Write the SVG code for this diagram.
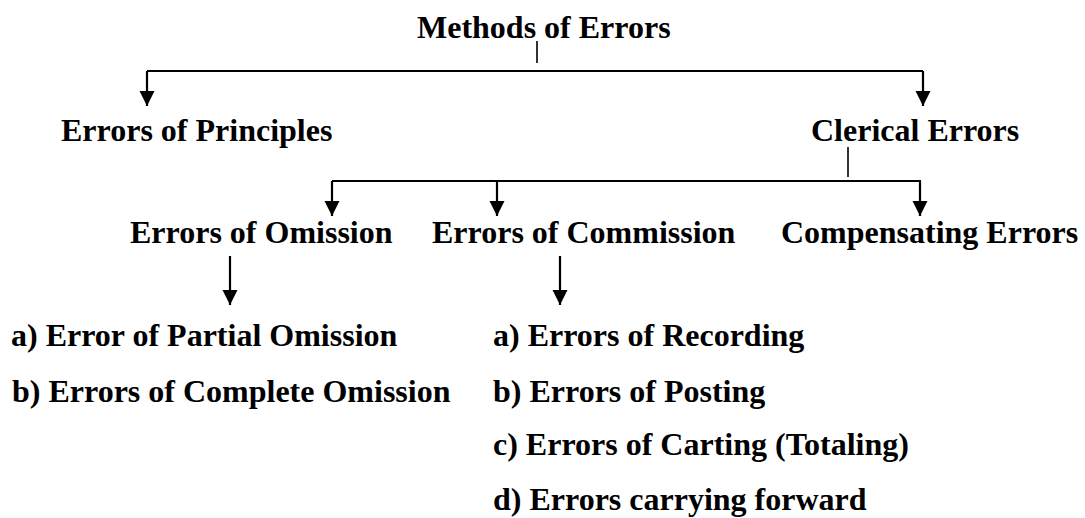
<svg xmlns="http://www.w3.org/2000/svg" width="1085" height="518" viewBox="0 0 1085 518">
<style>
text{font-family:'Liberation Serif','Times New Roman',Times,'DejaVu Serif',serif;font-weight:bold;font-size:32px;fill:#000}
.c{stroke:#000;stroke-width:2.2;fill:none}
.s{stroke:#000;stroke-width:1.6;fill:none}
</style>
<defs>
<marker id="ah" markerUnits="userSpaceOnUse" markerWidth="16" markerHeight="16" viewBox="0 0 16 16" refX="15" refY="8" orient="auto">
<path d="M0,0.5 L15,8 L0,15.5 Z" fill="#000"/>
</marker>
</defs>
<rect width="1085" height="518" fill="#fff"/>
<g id="connectors">
<line class="s" x1="537" y1="41" x2="537" y2="63"/>
<line class="c" x1="147" y1="71" x2="923" y2="71"/>
<line class="c" x1="147" y1="71" x2="147" y2="106" marker-end="url(#ah)"/>
<line class="c" x1="923" y1="71" x2="923" y2="106" marker-end="url(#ah)"/>
<line class="s" x1="848" y1="147" x2="848" y2="177"/>
<line class="c" x1="332" y1="181" x2="921" y2="181"/>
<line class="c" x1="332" y1="181" x2="332" y2="216" marker-end="url(#ah)"/>
<line class="c" x1="497" y1="181" x2="497" y2="216" marker-end="url(#ah)"/>
<line class="c" x1="920" y1="181" x2="920" y2="216" marker-end="url(#ah)"/>
<line class="c" x1="230" y1="256" x2="230" y2="305" marker-end="url(#ah)"/>
<line class="c" x1="560" y1="256" x2="560" y2="305" marker-end="url(#ah)"/>
</g>
<g font-family="Liberation Serif, Times New Roman, serif" font-weight="bold" font-size="32">
<g id="root"><text x="417" y="38">Methods of Errors</text></g>
<g id="principles"><text x="61" y="141">Errors of Principles</text></g>
<g id="clerical"><text x="811" y="141">Clerical Errors</text></g>
<g id="omission"><text x="130" y="243">Errors of Omission</text></g>
<g id="commission"><text x="432" y="243">Errors of Commission</text></g>
<g id="compensating"><text x="781" y="243">Compensating Errors</text></g>
<g id="omission-list">
<text x="11" y="346">a) Error of Partial Omission</text>
<text x="12" y="402">b) Errors of Complete Omission</text>
</g>
<g id="commission-list">
<text x="493" y="346">a) Errors of Recording</text>
<text x="493" y="402">b) Errors of Posting</text>
<text x="493" y="455">c) Errors of Carting (Totaling)</text>
<text x="493" y="510">d) Errors carrying forward</text>
</g>
</g>
</svg>
